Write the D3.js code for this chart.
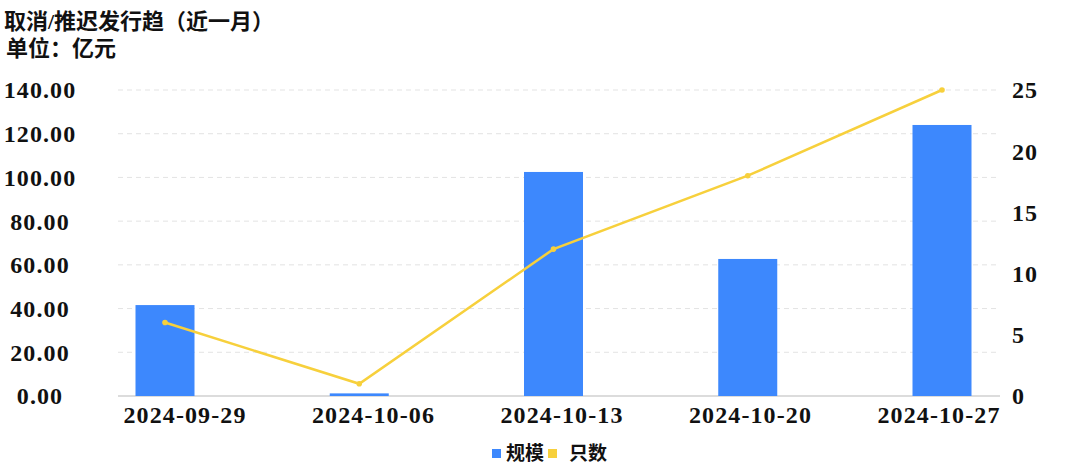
<!DOCTYPE html>
<html>
  <head>
    <meta charset="UTF-8">
    <title>取消/推迟发行趋</title>
  </head>
  <style type="text/css">
    body { margin: 0; background: #fff; }
    text { font-family: "Liberation Serif", "Noto Sans CJK SC", serif; font-weight: bold; fill: #111; }
    .num { font-size: 24px; letter-spacing: 1.1px; }
    .grid line { stroke: #e3e3e3; stroke-dasharray: 5,4; }
  </style>
  <body>
    <svg width="1073" height="473"></svg>
  </body>
  <script src="https://d3js.org/d3.v7.min.js"></script>
  <script type="text/javascript">
    const dates = ['2024-09-29', '2024-10-06', '2024-10-13', '2024-10-20', '2024-10-27'];
    const scale = [41.6, 1.2, 102.5, 62.7, 124.0];   // 规模
    const counts = [6, 1, 12, 18, 25];                 // 只数
    const leftTicks = [0, 20, 40, 60, 80, 100, 120, 140];
    const rightTicks = [0, 5, 10, 15, 20, 25];

    const svg = d3.select('svg');
    const plotLeft = 118, plotRight = 1000, plotTop = 90, plotBottom = 396;

    const x = d3.scalePoint().domain(dates).range([165, 942]);
    const xLabel = d3.scalePoint().domain(dates).range([185, 939]);
    const yL = d3.scaleLinear().domain([0, 140]).range([plotBottom, plotTop]);
    const yR = d3.scaleLinear().domain([0, 25]).range([plotBottom, plotTop]);

    // title
    svg.append('text').attr('x', 4).attr('y', 29).style('font-size', '22px')
      .text('取消/推迟发行趋（近一月）');
    svg.append('text').attr('x', 6).attr('y', 56).style('font-size', '22px')
      .text('单位：亿元');

    // grid
    svg.append('g').attr('class', 'grid')
      .selectAll('line').data(leftTicks.slice(1)).join('line')
        .attr('x1', plotLeft).attr('x2', plotRight)
        .attr('y1', d => yL(d)).attr('y2', d => yL(d));
    svg.append('line').attr('x1', plotLeft).attr('x2', plotRight)
      .attr('y1', plotBottom).attr('y2', plotBottom).attr('stroke', '#dcdcdc').attr('stroke-width', 2);

    // left axis labels
    svg.append('g').selectAll('text').data(leftTicks).join('text')
      .attr('class', 'num')
      .attr('x', 40).attr('y', d => yL(d)).attr('dy', '0.35em')
      .attr('text-anchor', 'middle')
      .text(d => d3.format('.2f')(d));

    // right axis labels
    svg.append('g').selectAll('text').data(rightTicks).join('text')
      .attr('class', 'num')
      .attr('x', 1012).attr('y', d => yR(d)).attr('dy', '0.35em')
      .text(d => d);

    // x labels
    svg.append('g').selectAll('text').data(dates).join('text')
      .attr('class', 'num')
      .attr('x', d => xLabel(d)).attr('y', 423)
      .attr('text-anchor', 'middle')
      .text(d => d);

    // bars
    const bw = 59;
    svg.append('g').selectAll('rect').data(scale).join('rect')
      .attr('x', (d, i) => x(dates[i]) - bw / 2)
      .attr('y', d => yL(d))
      .attr('width', bw)
      .attr('height', d => plotBottom - yL(d))
      .attr('fill', '#3d88fd');

    // line
    const line = d3.line().x((d, i) => x(dates[i])).y(d => yR(d));
    svg.append('path').datum(counts)
      .attr('d', line).attr('fill', 'none')
      .attr('stroke', '#f7d03c').attr('stroke-width', 2.5);
    svg.append('g').selectAll('circle').data(counts).join('circle')
      .attr('cx', (d, i) => x(dates[i])).attr('cy', d => yR(d))
      .attr('r', 2.8).attr('fill', '#f7d03c');

    // legend
    const lg = svg.append('g');
    lg.append('rect').attr('x', 492).attr('y', 449).attr('width', 9).attr('height', 9).attr('fill', '#3d88fd');
    lg.append('text').attr('x', 506).attr('y', 460).style('font-size', '19px').text('规模');
    lg.append('rect').attr('x', 548).attr('y', 449).attr('width', 9).attr('height', 9).attr('fill', '#f7d03c');
    lg.append('text').attr('x', 569).attr('y', 460).style('font-size', '19px').text('只数');
  </script>
</html>
